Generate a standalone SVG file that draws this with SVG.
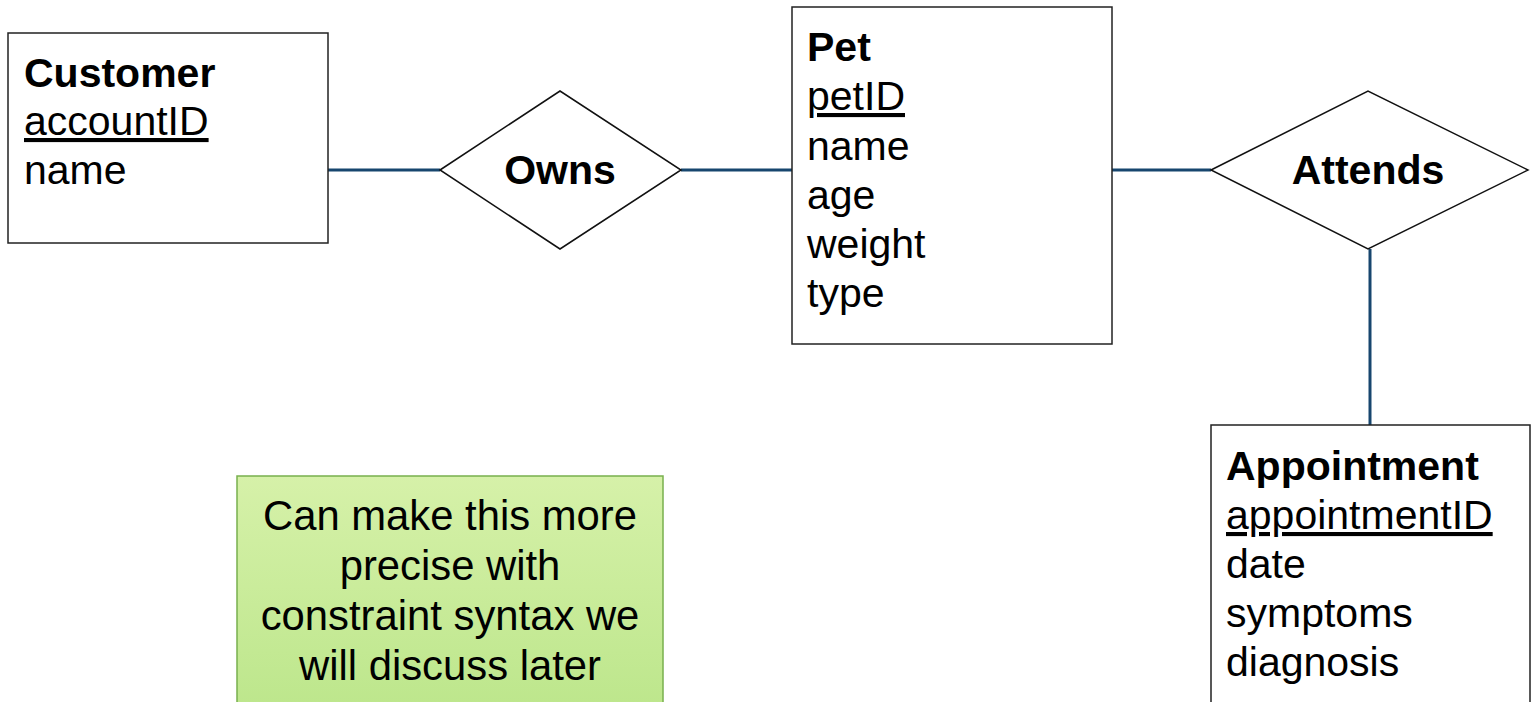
<svg xmlns="http://www.w3.org/2000/svg" width="1532" height="702" viewBox="0 0 1532 702">
<defs>
<linearGradient id="g" x1="0" y1="0" x2="0" y2="1">
<stop offset="0" stop-color="#d6f1a9"/>
<stop offset="1" stop-color="#bce68b"/>
</linearGradient>
<style>
.box{fill:#fff;stroke:#222;stroke-width:1.5}
.dia{fill:#fff;stroke:#111;stroke-width:1.5}
.conn{stroke:#17466e;stroke-width:3;fill:none}
text{font-family:"Liberation Sans",Arial,sans-serif;font-size:41px;fill:#000}
.b{font-weight:bold}
.u{text-decoration:underline}
.c{text-anchor:middle}
.n{font-size:41.8px}
</style>
</defs>
<rect width="1532" height="702" fill="#fff"/>
<g id="connectors">
<line class="conn" x1="328" y1="170" x2="440" y2="170"/>
<line class="conn" x1="681" y1="170" x2="792" y2="170"/>
<line class="conn" x1="1112" y1="170" x2="1211" y2="170"/>
<line class="conn" x1="1370" y1="249" x2="1370" y2="425"/>
</g>
<g id="customer">
<rect class="box" x="8" y="33" width="320" height="210"/>
<text class="b" x="24" y="87">Customer</text>
<text class="u" x="24" y="135">accountID</text>
<text x="24" y="184">name</text>
</g>
<g id="owns">
<polygon class="dia" points="440,170 560,91 681,170 560,249"/>
<text class="b c" x="560" y="184">Owns</text>
</g>
<g id="pet">
<rect class="box" x="792" y="7" width="320" height="337"/>
<text class="b" x="807" y="61">Pet</text>
<text class="u" x="807" y="110">petID</text>
<text x="807" y="160">name</text>
<text x="807" y="209">age</text>
<text x="807" y="258">weight</text>
<text x="807" y="307">type</text>
</g>
<g id="attends">
<polygon class="dia" points="1211,170 1368,91 1528,170 1368,249"/>
<text class="b c" x="1368" y="184">Attends</text>
</g>
<g id="appointment">
<rect class="box" x="1211" y="425" width="319" height="290"/>
<text class="b" x="1226" y="480">Appointment</text>
<text class="u" x="1226" y="529">appointmentID</text>
<text x="1226" y="578">date</text>
<text x="1226" y="627">symptoms</text>
<text x="1226" y="676">diagnosis</text>
</g>
<g id="note">
<rect x="237" y="476" width="426" height="240" fill="url(#g)" stroke="#78b04e" stroke-width="1.5"/>
<text class="c n" x="450" y="530">Can make this more</text>
<text class="c n" x="450" y="580">precise with</text>
<text class="c n" x="450" y="630">constraint syntax we</text>
<text class="c n" x="450" y="680">will discuss later</text>
</g>
</svg>
